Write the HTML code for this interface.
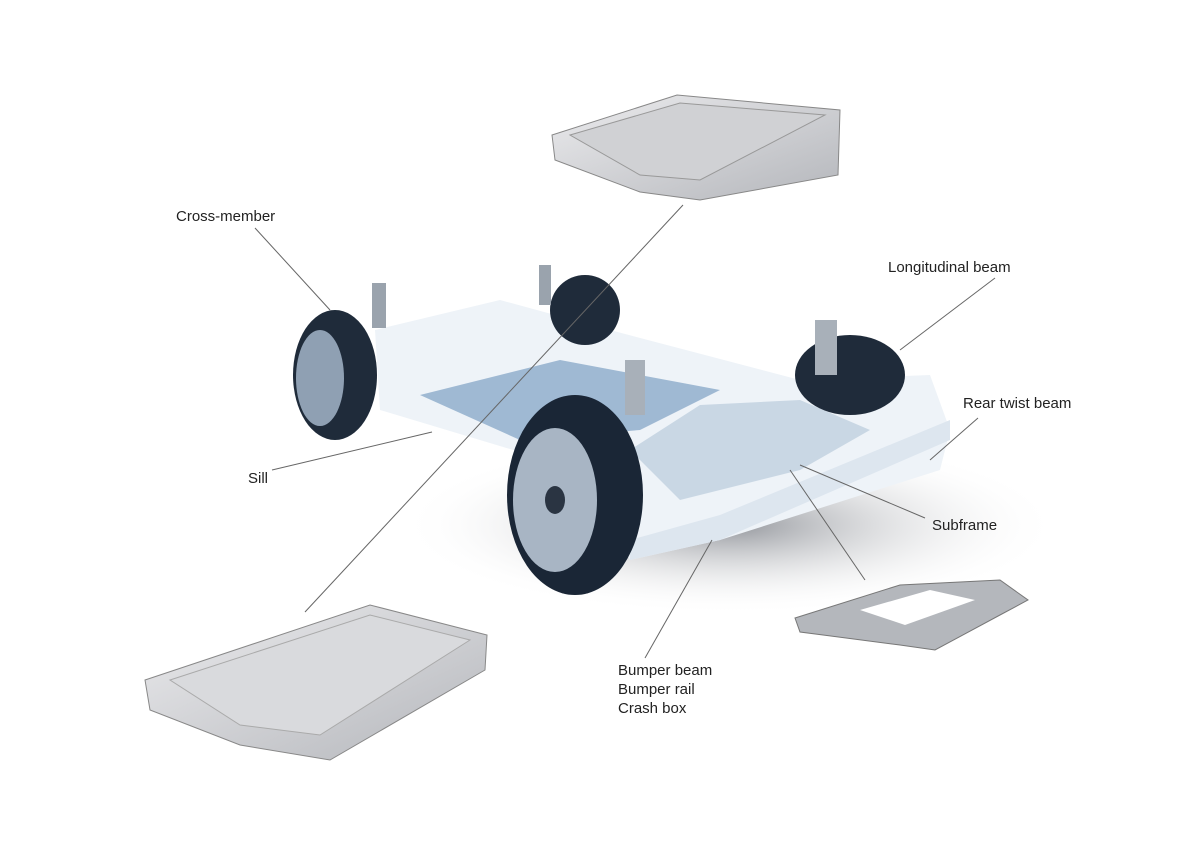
<!DOCTYPE html>
<html><head><style>
body{margin:0;background:#fff;}
.l{position:absolute;font-family:"Liberation Sans",sans-serif;font-size:15px;color:#222;}
</style></head><body>
<div style="position:relative;width:1194px;height:861px;overflow:hidden">
<svg width="1194" height="861" style="position:absolute;left:0;top:0">
<defs>
<linearGradient id="sil" x1="0" y1="0" x2="1" y2="1"><stop offset="0" stop-color="#ececee"/><stop offset="1" stop-color="#b4b6bb"/></linearGradient>
<radialGradient id="sh" cx="0.5" cy="0.5" r="0.5"><stop offset="0" stop-color="#6f737b" stop-opacity="0.75"/><stop offset="1" stop-color="#fff" stop-opacity="0"/></radialGradient>
</defs>
<ellipse cx="730" cy="525" rx="330" ry="90" fill="url(#sh)"/>
<polygon points="552,135 677,95 840,110 838,175 700,200 640,192 555,160" fill="url(#sil)" stroke="#888"/>
<polygon points="570,135 680,103 825,115 700,180 640,175" fill="#d0d1d4" stroke="#999"/>
<polygon points="375,330 500,300 610,330 800,380 930,375 950,430 940,470 720,540 630,560 580,470 380,410" fill="#eef3f8"/>
<polygon points="420,395 560,360 720,390 640,430 520,440" fill="#9fb9d3"/>
<polygon points="630,450 700,405 800,400 870,430 800,470 680,500" fill="#c9d7e4"/>
<polygon points="630,540 720,515 950,420 950,440 720,540 630,560" fill="#dde6ef"/>
<ellipse cx="335" cy="375" rx="42" ry="65" fill="#1f2b3a"/><ellipse cx="320" cy="378" rx="24" ry="48" fill="#8fa0b3"/>
<ellipse cx="585" cy="310" rx="35" ry="35" fill="#1f2b3a"/>
<ellipse cx="850" cy="375" rx="55" ry="40" fill="#1f2b3a"/>
<ellipse cx="575" cy="495" rx="68" ry="100" fill="#1a2636"/><ellipse cx="555" cy="500" rx="42" ry="72" fill="#a8b5c4"/><ellipse cx="555" cy="500" rx="10" ry="14" fill="#2a3442"/>
<rect x="372" y="283" width="14" height="45" fill="#9aa3ad"/><rect x="539" y="265" width="12" height="40" fill="#9aa3ad"/>
<rect x="625" y="360" width="20" height="55" fill="#a8b0b9"/><rect x="815" y="320" width="22" height="55" fill="#a8b0b9"/>
<polygon points="145,680 370,605 487,635 485,670 330,760 240,745 150,710" fill="url(#sil)" stroke="#888"/>
<polygon points="170,680 370,615 470,640 320,735 240,725" fill="#d9dadd" stroke="#aaa"/>
<polygon points="795,618 900,585 1000,580 1028,600 1000,615 935,650 900,645 800,632" fill="#b4b7bc" stroke="#777"/>
<polygon points="860,610 930,590 975,600 905,625" fill="#fff"/>
<g stroke="#666" stroke-width="1" fill="none">
<line x1="255" y1="228" x2="330" y2="310"/>
<line x1="683" y1="205" x2="305" y2="612"/>
<line x1="995" y1="278" x2="900" y2="350"/>
<line x1="978" y1="418" x2="930" y2="460"/>
<line x1="272" y1="470" x2="432" y2="432"/>
<line x1="925" y1="518" x2="800" y2="465"/>
<line x1="865" y1="580" x2="790" y2="470"/>
<line x1="645" y1="658" x2="712" y2="540"/>
</g>
</svg>
<div class="l" style="left:176px;top:208px">Cross-member</div>
<div class="l" style="left:888px;top:259px">Longitudinal beam</div>
<div class="l" style="left:963px;top:395px">Rear twist beam</div>
<div class="l" style="left:248px;top:470px">Sill</div>
<div class="l" style="left:932px;top:517px">Subframe</div>
<div class="l" style="left:618px;top:661px;line-height:19px">Bumper beam<br>Bumper rail<br>Crash box</div>
</div>
</body></html>
